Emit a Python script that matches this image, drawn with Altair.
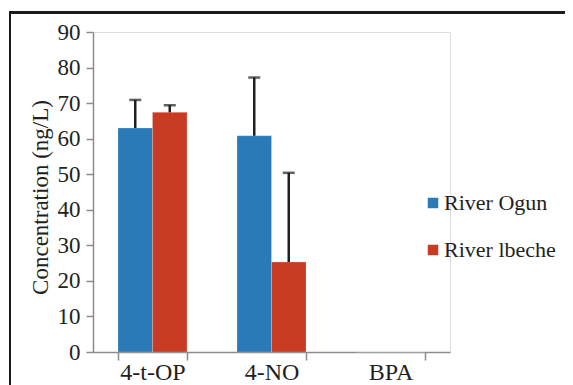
import altair as alt
import pandas as pd

categories = ["4-t-OP", "4-t-OP", "4-NO", "4-NO", "BPA", "BPA"]
series = ["River Ogun", "River lbeche"] * 3
values = [63.0, 67.4, 60.8, 25.3, 0.0, 0.0]
err_top = [70.9, 69.4, 77.2, 50.4, None, None]

cat_order = ["4-t-OP", "4-NO", "BPA"]
ser_order = ["River Ogun", "River lbeche"]
colors = ["#2a7ab8", "#c83c24"]

df = pd.DataFrame({"cat": categories, "series": series, "value": values, "top": err_top})

FONT = "Liberation Serif"
TXT = "#231f20"

x_axis = alt.Axis(labelAngle=0, labelFont=FONT, labelFontSize=24, labelColor=TXT,
                  tickBand="extent", tickSize=8, tickColor="#8c8c8c", tickWidth=1.5,
                  domainColor="#8c8c8c", domainWidth=1.5, labelPadding=0,
                  labelOverlap=False)
y_axis = alt.Axis(values=list(range(0, 91, 10)), grid=False, labelFont=FONT, labelFontSize=23,
                  labelColor=TXT, titleFont=FONT, titleFontSize=23, titleFontWeight="normal",
                  titleColor=TXT, tickSize=7, tickColor="#8c8c8c", tickWidth=1.5,
                  domainColor="#8c8c8c", domainWidth=1.5, labelPadding=6,
                  titleX=-46, titleY=165, titleBaseline="alphabetic", titleAngle=270,
                  labelOverlap=False, labelFlush=False)
x_scale = alt.Scale(paddingInner=0.42, paddingOuter=0.21)
y_scale = alt.Scale(domain=[0, 90], nice=False)
YT = "Concentration (ng/L)"


def xe():
    return alt.X("cat:N", sort=cat_order, title=None, scale=x_scale, axis=x_axis)


def xo():
    return alt.XOffset("series:N", sort=ser_order, scale=alt.Scale(paddingInner=0, paddingOuter=0))


bars = alt.Chart(df).mark_bar(stroke="white", strokeWidth=0.5, strokeOpacity=0.4).encode(
    x=xe(), xOffset=xo(),
    y=alt.Y("value:Q", title=YT, scale=y_scale, axis=y_axis),
    color=alt.Color("series:N", sort=ser_order, scale=alt.Scale(domain=ser_order, range=colors),
                    legend=alt.Legend(title=None, orient="none", legendX=329, legendY=160,
                                      symbolType="square", symbolSize=110, symbolStrokeWidth=0,
                                      labelFont=FONT, labelFontSize=22, labelColor=TXT,
                                      rowPadding=25, symbolOffset=0, labelOffset=0,
                                      labelLimit=300)),
)

err = df.dropna(subset=["top"])
rules = alt.Chart(err).mark_rule(color="#1f1f1f", strokeWidth=2.5).encode(
    x=xe(), xOffset=xo(),
    y=alt.Y("value:Q", title=YT, scale=y_scale, axis=y_axis), y2="top:Q",
)
caps = alt.Chart(err).mark_tick(color="#1f1f1f", thickness=2.5, size=12, orient="horizontal").encode(
    x=xe(), xOffset=xo(),
    y=alt.Y("top:Q", title=YT, scale=y_scale, axis=y_axis),
)

frame_top = alt.Chart(df).mark_rule(color="#1a1a1a", strokeWidth=2).encode(
    x=alt.value(-83), x2=alt.value(480), y=alt.value(-19.5))
frame_left = alt.Chart(df).mark_rule(color="#1a1a1a", strokeWidth=2).encode(
    x=alt.value(-83), y=alt.value(-20.5), y2=alt.value(370))

chart = alt.layer(bars, rules, caps, frame_top, frame_left).properties(
    width=357, height=320,
    autosize=alt.AutoSizeParams(type="none"),
    padding={"left": 85, "top": 24, "right": 115, "bottom": 33},
).configure_view(strokeWidth=0).configure(background="white")

chart.save("out.html", embed_options={"renderer": "svg", "actions": False})
